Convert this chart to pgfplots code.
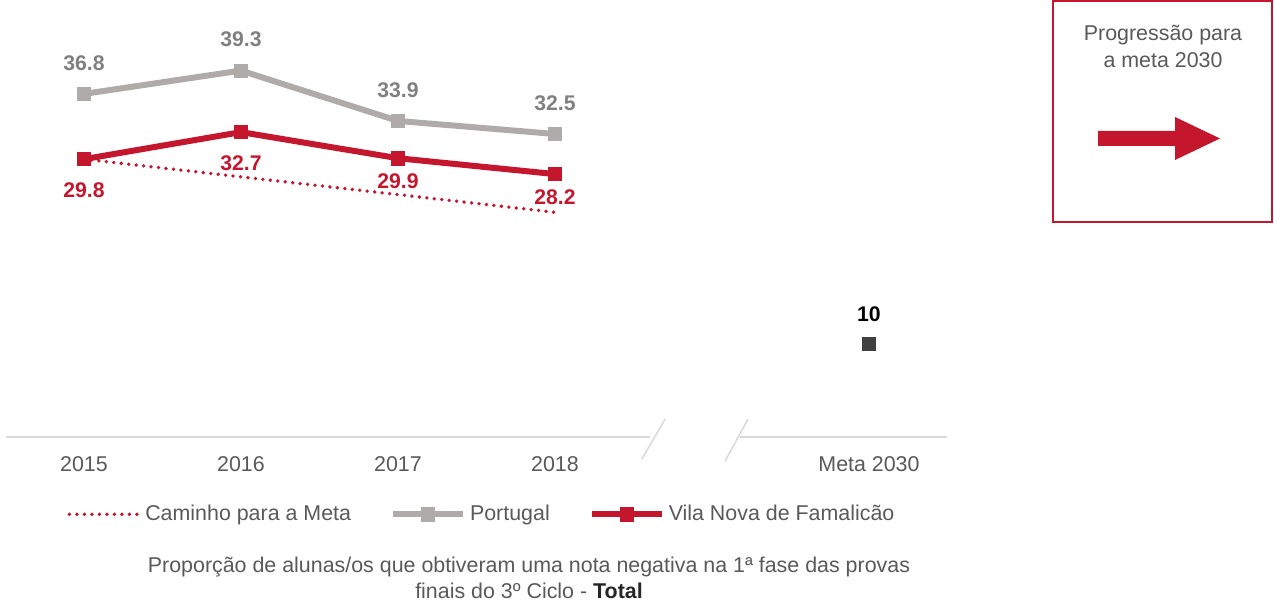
\documentclass[border=0pt]{standalone}
\usepackage{pgfplots}
\pgfplotsset{compat=1.18}
\usepackage{fontspec}
\setmainfont{Liberation Sans}
\definecolor{redVN}{RGB}{196,23,46}
\definecolor{grayPT}{RGB}{175,171,171}
\definecolor{grayLbl}{RGB}{128,128,128}
\definecolor{txtgray}{RGB}{89,89,89}
\definecolor{baseln}{RGB}{217,217,217}
\definecolor{metac}{RGB}{64,64,64}
\begin{document}
\begin{tikzpicture}
\useasboundingbox (0,0) rectangle (637pt,302pt);
\begin{axis}[
  at={(2.75pt,83.5pt)}, anchor=south west,
  scale only axis, width=471pt, height=213.5pt,
  xmin=-0.5, xmax=5.5, ymin=0, ymax=45.8,
  clip=false,
  hide y axis,
  axis x line*=bottom,
  x axis line style={draw=none},
  major tick length=0pt,
  xtick={0,1,2,3,5},
  xticklabels={2015,2016,2017,2018,Meta 2030},
  xticklabel style={font=\fontsize{10.7}{12}\selectfont, text=txtgray, yshift=-6pt},
  /pgf/number format/assume math mode=true,
  every node near coord/.append style={font=\fontsize{10.6}{12}\selectfont\bfseries, anchor=center},
  legend columns=3,
  legend style={at={(0.059,-0.181)}, anchor=west, draw=none, fill=none,
    font=\fontsize{10.7}{12}\selectfont, text=txtgray,
    /tikz/every even column/.append style={column sep=17.5pt}},
  legend image code/.code={
    \draw[mark repeat=2,mark phase=2,#1] plot coordinates {(0pt,0pt) (17.5pt,0pt) (35pt,0pt)};
  },
]
% baseline with break
\draw[baseln, line width=0.75pt] (axis cs:-0.5,0) -- (axis cs:3.605,0);
\draw[baseln, line width=0.75pt] (axis cs:4.178,0) -- (axis cs:5.5,0);
\draw[baseln, line width=0.75pt] (axis cs:3.552,-2.4) -- (axis cs:3.701,1.9);
\draw[baseln, line width=0.75pt] (axis cs:4.083,-2.6) -- (axis cs:4.229,1.9);

\addplot[redVN, line width=1.9pt, line cap=round, dash pattern=on 0pt off 3.75pt]
  coordinates {(0,29.8) (1,27.9) (2,26.0) (3,24.1)};
\addlegendentry{Caminho para a Meta}

\addplot[grayPT, line width=3pt, mark=square*, mark size=3.3pt,
  mark options={solid, fill=grayPT, line width=0.3pt},
  nodes near coords,
  every node near coord/.append style={text=grayLbl, yshift=15.5pt}]
  coordinates {(0,36.8) (1,39.3) (2,33.9) (3,32.5)};
\addlegendentry{Portugal}

\addplot[redVN, line width=3pt, mark=square*, mark size=3.3pt,
  mark options={solid, fill=redVN, line width=0.3pt},
  nodes near coords,
  every node near coord/.append style={text=redVN},
  coordinate style/.condition={x<1.5}{yshift=-15.5pt},
  coordinate style/.condition={x>1.5}{yshift=-11.5pt}]
  coordinates {(0,29.8) (1,32.7) (2,29.9) (3,28.2)};
\addlegendentry{Vila Nova de Famalicão}

\addplot[forget plot, only marks, mark=square*, mark size=3.4pt, color=metac,
  mark options={line width=0.3pt},
  nodes near coords,
  every node near coord/.append style={text=black, yshift=15pt}]
  coordinates {(5,10)};
\end{axis}

% right box
\draw[redVN, line width=0.8pt] (526.5pt,191pt) rectangle (636pt,301.5pt);
\node[text=txtgray, font=\fontsize{10.7}{12}\selectfont] at (581.5pt,284.5pt) {Progressão para};
\node[text=txtgray, font=\fontsize{10.7}{12}\selectfont] at (581.5pt,272pt) {a meta 2030};
\fill[redVN] (549pt,236.5pt) -- (587.5pt,236.5pt) -- (587.5pt,243.5pt) -- (610pt,232.75pt)
  -- (587.5pt,222pt) -- (587.5pt,229pt) -- (549pt,229pt) -- cycle;

% caption
\node[text=txtgray, font=\fontsize{10.7}{12}\selectfont] at (264.5pt,18.5pt)
  {Proporção de alunas/os que obtiveram uma nota negativa na 1ª fase das provas};
\node[text=txtgray, font=\fontsize{10.7}{12}\selectfont] at (264.5pt,6.5pt)
  {finais do 3º Ciclo - \textbf{\color{black!85}Total}};
\end{tikzpicture}
\end{document}
